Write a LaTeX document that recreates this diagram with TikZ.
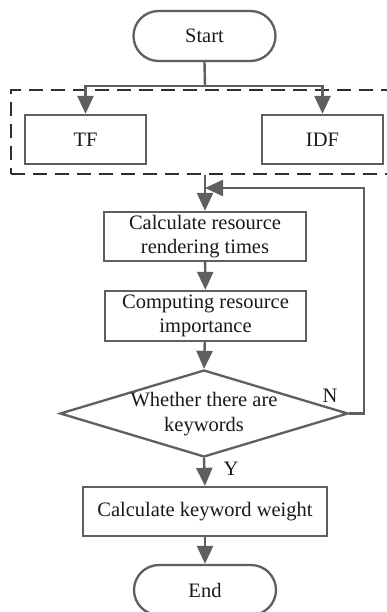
\documentclass[tikz,border=0pt]{standalone}
\usepackage{fontspec}
\setmainfont{Liberation Serif}
\usetikzlibrary{shapes.geometric,arrows.meta}
\definecolor{linegray}{RGB}{95,95,95}
\definecolor{textgray}{RGB}{25,25,25}
\begin{document}
\begin{tikzpicture}[x=1pt,y=-1pt,
  every node/.style={font=\fontsize{20.5}{24.5}\selectfont, text=textgray},
  box/.style={draw=linegray, line width=2.3pt, rectangle, inner sep=0pt, align=center},
  term/.style={box, rounded corners=25pt},
  flow/.style={draw=linegray, line width=2.4pt, -{Triangle[length=18pt,width=16pt]}},
  plain/.style={draw=linegray, line width=2.4pt},
  group/.style={draw=black!82, line width=2.8pt, dash pattern=on 14pt off 8pt}]
\useasboundingbox (0,0) rectangle (386,612);
\fill[white] (0,0) rectangle (386,612);

\node[term, minimum width=142pt, minimum height=50pt] (start) at (204.5,36) {Start};
\node[group, rectangle, minimum width=381pt, minimum height=84pt, inner sep=0pt] (grp) at (201.5,132) {};
\node[box, minimum width=121pt, minimum height=49pt] (tf) at (85.5,139.5) {TF};
\node[box, minimum width=121pt, minimum height=49pt] (idf) at (322.5,139.5) {IDF};
\node[box, minimum width=202pt, minimum height=49pt] (calc1) at (205,236.5) {Calculate resource\\rendering times};
\node[box, minimum width=201pt, minimum height=50pt] (calc2) at (205.5,316) {Computing resource\\importance};
\node[diamond, draw=linegray, line width=2.3pt, minimum width=288pt, minimum height=87pt, inner sep=0pt] (dec) at (204,413.5) {};
\node[align=center, inner sep=0pt] (dectext) at (204,414) {Whether there are\\keywords};
\node[box, minimum width=244pt, minimum height=49pt] (calc3) at (205,511.5) {Calculate keyword weight};
\node[term, minimum width=142pt, minimum height=50pt] (end) at (205,590) {End};

\coordinate (j1) at (205,86);
\coordinate (corner) at (364,188);

\draw[plain] (start.south) -- (j1);
\draw[flow] (j1) -| (tf.north);
\draw[flow] (j1) -| (idf.north);
\draw[flow] (grp.south -| calc1.north) -- (calc1.north);
\draw[flow] (calc1) -- (calc2);
\draw[flow] (calc2) -- (dec.north);
\draw[flow] (dec.south) -- (calc3.north);
\draw[flow] (calc3) -- (end);
\draw[flow] (dec.east) -| (corner) -- (calc1.north |- corner);

\node[inner sep=0pt] (nlab) at (330,396) {N};
\node[inner sep=0pt] (ylab) at (231,469) {Y};
\end{tikzpicture}
\end{document}
